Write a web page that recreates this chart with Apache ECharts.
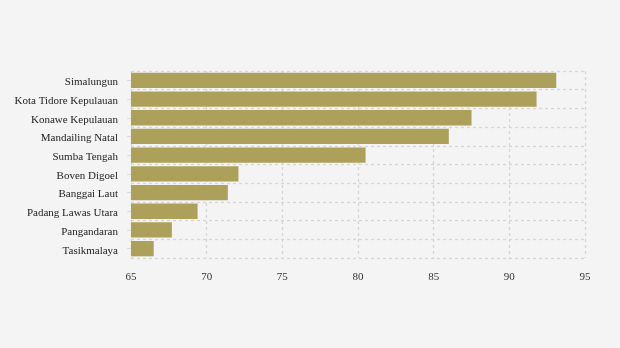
<!DOCTYPE html>
<html>
<head>
<meta charset="utf-8">
<script src="https://cdn.jsdelivr.net/npm/echarts@6/dist/echarts.min.js"></script>
<style>
html,body{margin:0;padding:0;background:#f4f4f4;}
#c{width:620px;height:348px;}
</style>
</head>
<body>
<div id="c"></div>
<script>
const categories = ["Simalungun","Kota Tidore Kepulauan","Konawe Kepulauan","Mandailing Natal","Sumba Tengah","Boven Digoel","Banggai Laut","Padang Lawas Utara","Pangandaran","Tasikmalaya"];
const values = [93.1, 91.8, 87.5, 86.0, 80.5, 72.1, 71.4, 69.4, 67.7, 66.5];
const xMin = 65, xMax = 95, xStep = 5;

const chart = echarts.init(document.getElementById('c'));
const font = 'Liberation Serif, Times New Roman, serif';
const gridLine = {show:true, lineStyle:{color:'#d6d6d6', type:[3,3], width:1.3}};
chart.setOption({
  backgroundColor:'#f4f4f4',
  animation:false,
  grid:{left:131, right:35, top:71, bottom:90, containLabel:false},
  xAxis:{
    type:'value', min:xMin, max:xMax, interval:xStep,
    axisLine:{show:false}, axisTick:{show:false},
    axisLabel:{color:'#333', fontFamily:font, fontSize:11, margin:14},
    splitLine:gridLine
  },
  yAxis:{
    type:'category', data:categories, inverse:true,
    axisLine:{show:false},
    axisTick:{show:true, alignWithLabel:true, length:4, lineStyle:{color:'#dcdcdc'}},
    axisLabel:{color:'#222', fontFamily:font, fontSize:11, margin:13,
      formatter: v => '{a|' + v + '}',
      rich:{a:{fontFamily:font, fontSize:11, color:'#222', padding:[4,0,0,0]}}},
    splitLine:gridLine
  },
  series:[{
    type:'bar', data:values, barCategoryGap:'18%',
    itemStyle:{color:'#ada05b'}
  }]
});
</script>
</body>
</html>
